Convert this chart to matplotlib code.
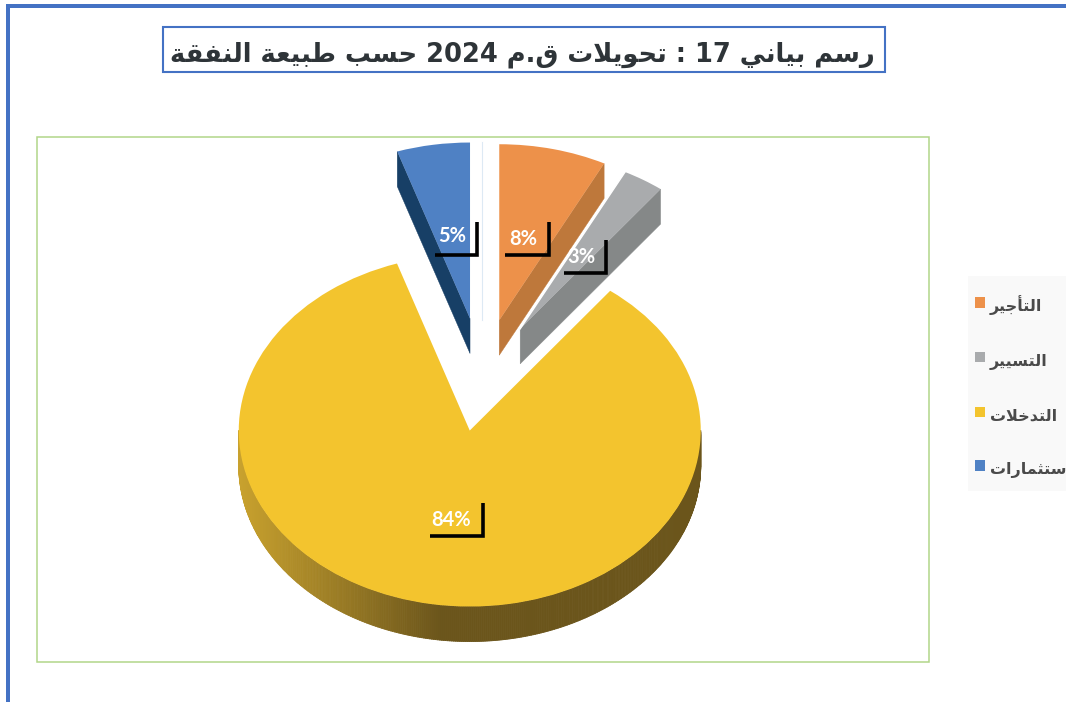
import re
import numpy as np
import matplotlib
matplotlib.use("Agg")
import matplotlib.pyplot as plt
from matplotlib.collections import PolyCollection
from matplotlib.patches import Rectangle, Polygon
from matplotlib.transforms import Affine2D
from matplotlib.colors import to_rgb

# ---------- data ----------
categories = ["التأجير", "التسيير", "التدخلات", "الاستثمارات"]
values = [7.5, 2.9, 84.5, 5.1]
pct_labels = ["8%", "3%", "84%", "5%"]
title_text = "رسم بياني 17 : تحويلات ق.م 2024 حسب طبيعة النفقة"
top_colors = ["#ED914A", "#A9ABAD", "#F3C42E", "#4F81C4"]

# ---------- Arabic shaping (matplotlib does no shaping or bidi) ----------
DUAL = {"ب": 0xFE8F, "ت": 0xFE95, "ث": 0xFE99, "ج": 0xFE9D, "ح": 0xFEA1, "خ": 0xFEA5,
        "س": 0xFEB1, "ط": 0xFEC1, "ع": 0xFEC9, "ف": 0xFED1, "ق": 0xFED5, "ل": 0xFEDD,
        "م": 0xFEE1, "ن": 0xFEE5, "ي": 0xFEF1}
RIGHT = {"ا": 0xFE8D, "أ": 0xFE83, "ة": 0xFE93, "د": 0xFEA9, "ر": 0xFEAD, "و": 0xFEED}
LAMALEF = {"ا": 0xFEFB, "أ": 0xFEF7}


def shape(s):
    out = []
    i = 0
    prev_joins = False
    while i < len(s):
        c = s[i]
        if c == "ل" and i + 1 < len(s) and s[i + 1] in LAMALEF:
            out.append(chr(LAMALEF[s[i + 1]] + (1 if prev_joins else 0)))
            prev_joins = False
            i += 2
            continue
        if c in RIGHT:
            out.append(chr(RIGHT[c] + (1 if prev_joins else 0)))
            prev_joins = False
        elif c in DUAL:
            nxt = i + 1 < len(s) and (s[i + 1] in DUAL or s[i + 1] in RIGHT)
            off = {(False, False): 0, (True, False): 1, (False, True): 2, (True, True): 3}[(prev_joins, nxt)]
            out.append(chr(DUAL[c] + off))
            prev_joins = nxt
        else:
            out.append(c)
            prev_joins = False
        i += 1
    tokens = re.findall(r"[0-9]+|.", "".join(out))
    return "".join(reversed(tokens))


# ---------- figure ----------
W, H = 1066, 702
fig = plt.figure(figsize=(W / 100, H / 100), dpi=100, facecolor="white")
px = Affine2D().scale(1 / W, -1 / H).translate(0, 1) + fig.transFigure

ax = fig.add_axes([0, 0, 1, 1])
RX, RY, CX, CY, DEPTH = 231.0, 176.0, 482.0, 375.0, 35.0
wedges, _ = ax.pie(values, explode=[0.32, 0.31, 0.32, 0.325], startangle=90, counterclock=False,
                   colors=top_colors, radius=1.0, wedgeprops=dict(linewidth=0))
ax.set_aspect("auto")
ax.set_xlim(-CX / RX, (W - CX) / RX)
ax.set_ylim((CY - H) / RY, CY / RY)
ax.set_axis_off()

d = DEPTH / RY


def rim(w, theta):
    t = np.deg2rad(theta)
    return (w.center[0] + w.r * np.cos(t), w.center[1] + w.r * np.sin(t))


def cut_face(w, theta, color, z):
    x0, y0 = w.center
    x1, y1 = rim(w, theta)
    ax.add_patch(Polygon([(x0, y0), (x1, y1), (x1, y1 - d), (x0, y0 - d)], closed=True,
                         facecolor=color, edgecolor=color, linewidth=0.3, zorder=z))


w_o, w_g, w_y, w_b = wedges
for w, z in zip(wedges, [4, 6, 3, 4]):
    w.set_zorder(z)
cut_face(w_b, w_b.theta2, "#173F66", 3.5)
cut_face(w_o, w_o.theta1, "#BE783B", 3.5)
cut_face(w_g, w_g.theta1, "#858888", 5.5)

# white seam along the grey slice's left edge
gx, gy = rim(w_g, w_g.theta2)
ax.plot([w_g.center[0], gx], [w_g.center[1], gy], color="white", lw=1.0, zorder=6.5)

# yellow rim, shaded from the left
th = np.linspace(180, 360, 361)
xs = np.array([rim(w_y, t)[0] for t in th])
ys = np.array([rim(w_y, t)[1] for t in th])
quads = [[(xs[i], ys[i]), (xs[i + 1], ys[i + 1]), (xs[i + 1], ys[i + 1] - d), (xs[i], ys[i] - d)]
         for i in range(len(th) - 1)]
c_left, c_dark = np.array(to_rgb("#C9A22E")), np.array(to_rgb("#6B551B"))
span = np.clip((xs[:-1] - xs[0]) / (w_y.center[0] - xs[0]) / 0.87, 0, 1)
cols = [tuple(c_left + (c_dark - c_left) * s) for s in span]
ax.add_collection(PolyCollection(quads, facecolors=cols, edgecolors=cols, linewidths=0.6, zorder=2))

# page decoration (screenshot borders)
BLUE = "#4472C4"
deco = [Rectangle((37, 137), 892, 525, fill=False, edgecolor="#B2D689", linewidth=1.1),
        Rectangle((163, 27), 722, 45, facecolor="white", edgecolor=BLUE, linewidth=1.5),
        Rectangle((6, 4), 1060, 3.5, facecolor=BLUE, edgecolor="none"),
        Rectangle((6, 4), 3.5, 698, facecolor=BLUE, edgecolor="none"),
        Rectangle((968, 276), 98, 215, facecolor="#F9F9F9", edgecolor="none")]
for p in deco:
    p.set_transform(px)
    p.set_zorder(1)
    ax.add_artist(p)

ax.plot([481.5, 481.5], [142, 320], color="#DDE9F4", lw=0.8, transform=px, zorder=1.5)

ax.text(522, 55, shape(title_text), transform=px, ha="center", va="center", fontsize=18.5,
        fontweight="bold", family=["DejaVu Sans"], color="#2E3438", zorder=8)

# data labels with the black corner brackets
label_xy = [(523, 239), (581, 257), (451, 520), (452, 236)]
corner_xy = [(549, 255), (606, 273), (483, 536), (477, 255)]
bracket_w = [44, 42, 53, 42]
for s, (tx, ty), (vx, hy), bw in zip(pct_labels, label_xy, corner_xy, bracket_w):
    ax.plot([vx - bw, vx, vx], [hy, hy, hy - 33], color="black", lw=2.6, transform=px,
            solid_joinstyle="miter", solid_capstyle="butt", zorder=9)
    ax.text(tx, ty, s, transform=px, ha="center", va="center", color="white", fontsize=14.5,
            family="Lato", fontweight="bold", zorder=10)

# legend
leg = ax.legend(wedges, [shape(c) for c in categories], loc="upper left",
                bbox_to_anchor=(975, 295), bbox_transform=px, frameon=False,
                prop=dict(family="DejaVu Sans", size=11.5, weight="bold"), labelcolor="#4A4A4A",
                handlelength=0.62, handleheight=0.62, handletextpad=0.3,
                labelspacing=2.42, borderpad=0, borderaxespad=0, alignment="left")
leg.set_zorder(7)
for h in leg.legend_handles:
    h.set_y(h.get_y() + 2)

fig.savefig("out.png", dpi=100)
